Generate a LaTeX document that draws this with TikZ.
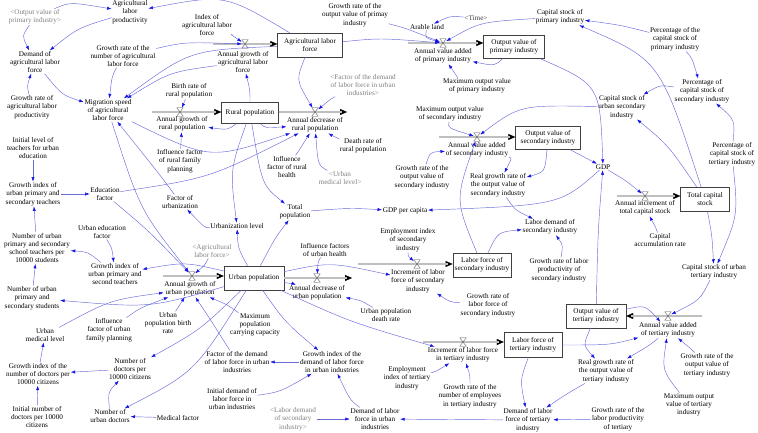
\documentclass[tikz,border=0pt]{standalone}
\usepackage{fontspec}
\setmainfont{Liberation Serif}
\usetikzlibrary{arrows.meta}
\definecolor{linkblue}{RGB}{105,105,220}
\definecolor{tipblue}{RGB}{20,20,230}
\tikzset{
  var/.style={align=center, inner sep=0.6pt, font=\fontsize{7.2}{8.3}\selectfont},
  shadow/.style={var, text=gray},
  stock/.style={var, draw=black!75, line width=0.4pt, inner sep=2pt},
  valvebox/.style={minimum width=6pt, minimum height=8pt, inner sep=0pt},
  link/.style={draw=linkblue, line width=0.45pt, -{Latex[length=4.5pt,width=3.2pt,color=tipblue]}},
  pipe/.style={draw=gray!65!black, line width=0.35pt, double=gray!50, double distance=2.2pt, shorten >=5pt},
  pipehead/.style={draw=black, line width=0.2pt, -{Triangle[length=7pt,width=6pt]}}
}
\newcommand{\valve}[3]{%
  \node[valvebox] (#1) at (#2,#3) {};
  \draw[fill=white, draw=black!70, line width=0.35pt] (#1.north west) -- (#1.north east) -- (#1.south west) -- (#1.south east) -- cycle;}
\begin{document}
\begin{tikzpicture}[x=1pt,y=-1pt]
\useasboundingbox (0,0) rectangle (758,433);

% stocks
\node[stock, minimum width=65pt, minimum height=24pt] (alf) at (310,45) {Agricultural labor\\force};
\node[stock, minimum width=57pt, minimum height=21pt] (rp) at (250,113) {Rural population};
\node[stock, minimum width=61pt, minimum height=23pt] (ovpi) at (514,47) {Output value of\\primary industry};
\node[stock, minimum width=65pt, minimum height=23pt] (ovsi) at (548,138) {Output value of\\secondary industry};
\node[stock, minimum width=49pt, minimum height=24pt] (tcs) at (705,199) {Total capital\\stock};
\node[stock, minimum width=60pt, minimum height=24pt] (up) at (254,278) {Urban population};
\node[stock, minimum width=53pt, minimum height=24pt] (lfsi) at (482,265) {Labor force of\\secondary industry};
\node[stock, minimum width=58pt, minimum height=25pt] (lfti) at (533,345) {Labor force of\\tertiary industry};
\node[stock, minimum width=60pt, minimum height=24pt] (ovti) at (596,316) {Output value of\\tertiary industry};

% flows
\coordinate (s1) at (213,44);
\draw[pipehead] (s1) -- (alf.west |- s1);
\draw[pipe] (s1) -- (alf.west |- s1);
\valve{vagalf}{245}{44}
\coordinate (s2) at (152,112);
\draw[pipehead] (s2) -- (rp.west |- s2);
\draw[pipe] (s2) -- (rp.west |- s2);
\valve{vagrp}{180}{112}
\coordinate (e2) at (347,112);
\draw[pipehead] (rp.east |- e2) -- (e2);
\draw[pipe] (rp.east |- e2) -- (e2);
\valve{vadrp}{315}{112}
\coordinate (s3) at (408,43);
\draw[pipehead] (s3) -- (ovpi.west |- s3);
\draw[pipe] (s3) -- (ovpi.west |- s3);
\valve{vavapi}{443}{43}
\coordinate (s4) at (439,137);
\draw[pipehead] (s4) -- (ovsi.west |- s4);
\draw[pipe] (s4) -- (ovsi.west |- s4);
\valve{vavasi}{477}{137}
\coordinate (s5) at (617,196);
\draw[pipehead] (s5) -- (tcs.west |- s5);
\draw[pipe] (s5) -- (tcs.west |- s5);
\valve{vaitcs}{645}{196}
\coordinate (s6) at (163,276);
\draw[pipehead] (s6) -- (up.west |- s6);
\draw[pipe] (s6) -- (up.west |- s6);
\valve{vagup}{192}{276}
\coordinate (e6) at (352,278);
\draw[pipehead] (up.east |- e6) -- (e6);
\draw[pipe] (up.east |- e6) -- (e6);
\valve{vadup}{317}{278}
\coordinate (s7) at (358,264);
\draw[pipehead] (s7) -- (lfsi.west |- s7);
\draw[pipe] (s7) -- (lfsi.west |- s7);
\valve{vilfsi}{417}{264}
\coordinate (s8) at (423,342);
\draw[pipehead] (s8) -- (lfti.west |- s8);
\draw[pipe] (s8) -- (lfti.west |- s8);
\valve{vilfti}{463}{342}
\coordinate (s9) at (702,316);
\draw[pipehead] (s9) -- (ovti.east |- s9);
\draw[pipe] (s9) -- (ovti.east |- s9);
\valve{vavati}{668}{316}

% auxiliaries
\node[shadow] (outpri) at (35,17) {<Output value of\\primary industry>};
\node[var] (alp) at (130,12) {Agricultural\\labor\\productivity};
\node[var] (dalf) at (35,62) {Demand of\\agricultural labor\\force};
\node[var] (gralp) at (32,107) {Growth rate of\\agricultural labor\\productivity};
\node[var] (grnalf) at (123,56) {Growth rate of the\\number of agricultural\\labor force};
\node[var] (ms) at (108,110) {Migration speed\\of agricultural\\labor force};
\node[var] (ialf) at (207,25) {Index of\\agricultural labor\\force};
\node[var] (agalf) at (243,62) {Annual growth of\\agricultural labor\\force};
\node[var] (grovp) at (355,15) {Growth rate of the\\output value of primay\\industry};
\node[shadow] (fdlus) at (363,85) {<Factor of the demand\\of labor force in urban\\industries>};
\node[var] (brrp) at (189,91) {Birth rate of\\rural population};
\node[var] (agrp) at (182,124) {Annual growth of\\rural population};
\node[var] (adrp) at (315,125) {Annual decrease of\\rural population};
\node[var] (drrp) at (363,146) {Death rate of\\rural population};
\node[var, text=black!75] (time) at (476,18) {<Time>};
\node[var] (arable) at (427,27) {Arable land};
\node[var] (cspi) at (560,17) {Capital stock of\\primary industry};
\node[var] (avapi) at (443,56) {Annual value added\\of primary industry};
\node[var] (movpi) at (477,86) {Maximum output value\\of primary industry};
\node[var] (pcspi) at (675,39) {Percentage of the\\capital stock of\\primary industry};
\node[var] (pcssi) at (702,91) {Percentage of\\capital stock of\\secondary industry};
\node[var] (csusi) at (622,107) {Capital stock of\\urban secondary\\industry};
\node[var] (movsi) at (450,114) {Maximum output value\\of secondary industry};
\node[var] (avasi) at (477,150) {Annual value added\\of secondary industry};
\node[var] (pcsti) at (732,154) {Percentage of\\capital stock of\\tertiary industry};
\node[var] (gdp) at (603,167) {GDP};
\node[var] (grovsi) at (422,177) {Growth rate of the\\output value of\\secondary industry};
\node[var] (rgrsi) at (498,185) {Real growth rate of\\the output value of\\secondary industry};
\node[var] (aitcs) at (645,208) {Annual increment of\\total capital stock};
\node[var] (car) at (660,240) {Capital\\accumulation rate};
\node[var] (csuti) at (714,272) {Capital stock of urban\\tertiary industry};
\node[var] (ilt) at (33,148) {Initial level of\\teachers for urban\\education};
\node[var] (gipst) at (33,194) {Growth index of\\urban primary and\\secondary teachers};
\node[var] (ef) at (105,194) {Education\\factor};
\node[var] (ifrfp) at (180,161) {Influence factor\\of rural family\\planning};
\node[var] (fu) at (180,202) {Factor of\\urbanization};
\node[var] (ifrh) at (287,167) {Influence\\factor of rural\\health};
\node[shadow] (umls) at (340,178) {<Urban\\medical level>};
\node[var] (tp) at (295,212) {Total\\population};
\node[var] (ul) at (237,226) {Urbanization level};
\node[var] (gdppc) at (405,211) {GDP per capita};
\node[var] (uef) at (102,232) {Urban education\\factor};
\node[var] (nst) at (37,248) {Number of urban\\primary and secondary\\school teachers per\\10000 students};
\node[var] (gipt) at (115,274) {Growth index of\\urban primary and\\second teachers};
\node[shadow] (alfs) at (212,251) {<Agricultural\\labor force>};
\node[var] (ifuh) at (325,250) {Influence factors\\of urban health};
\node[var] (eisi) at (408,240) {Employment index\\of secondary\\industry};
\node[var] (ldsi) at (550,227) {Labor demand of\\secondary industry};
\node[var] (agup) at (190,289) {Annual growth of\\urban population};
\node[var] (adup) at (317,293) {Annual decrease of\\urban population};
\node[var] (ilfsi) at (418,281) {Increment of labor\\force of secondary\\industry};
\node[var] (grlpsi) at (559,270) {Growth rate of labor\\productivity of\\secondary industry};
\node[var] (nus) at (32,298) {Number of urban\\primary and\\secondary students};
\node[var] (uml) at (45,335) {Urban\\medical level};
\node[var] (ifufp) at (109,330) {Influence\\factor of urban\\family planning};
\node[var] (upbr) at (168,323) {Urban\\population birth\\rate};
\node[var] (mpcc) at (255,325) {Maximum\\population\\carrying capacity};
\node[var] (updr) at (386,315) {Urban population\\death rate};
\node[var] (grlfsi) at (488,305) {Growth rate of\\labor force of\\secondary industry};
\node[var] (avati) at (668,330) {Annual value added\\of tertiary industry};
\node[var] (gind) at (38,374) {Growth index of the\\number of doctors per\\10000 citizens};
\node[var] (ndpc) at (130,369) {Number of\\doctors per\\10000 citizens};
\node[var] (indpc) at (37,417) {Initial number of\\doctors per 10000\\citizens};
\node[var] (nud) at (110,416) {Number of\\urban doctors};
\node[var] (mf) at (178,418) {Medical factor};
\node[var] (fdlu) at (237,362) {Factor of the demand\\of labor force in urban\\industries};
\node[var] (gidlu) at (332,362) {Growth index of the\\demand of labor force\\in urban industries};
\node[var] (idlu) at (232,399) {Initial demand of\\labor force in\\urban industries};
\node[shadow] (ldsis) at (293,419) {<Labor demand\\of secondary\\industry>};
\node[var] (dlfu) at (375,419) {Demand of labor\\force in urban\\industries};
\node[var] (ilfti) at (463,355) {Increment of labor force\\in tertiary industry};
\node[var] (eiti) at (407,378) {Employment\\index of tertiary\\industry};
\node[var] (grneti) at (470,396) {Growth rate of the\\number of employees\\in tertiary industry};
\node[var] (dlfti) at (528,420) {Demand of labor\\force of tertiary\\industry};
\node[var] (rgrti) at (606,371) {Real growth rate of\\the output value of\\tertiary industry};
\node[var] (grovti) at (707,365) {Growth rate of the\\output value of\\tertiary industry};
\node[var] (movti) at (689,405) {Maximum output\\value of tertiary\\industry};
\node[var] (grlpti) at (618,419) {Growth rate of the\\labor productivity\\of tertiary};

% agricultural sector
\draw[link] (outpri) .. controls (70,2) .. (alp);
\draw[link] (outpri) .. controls (22,36) .. (dalf);
\draw[link] (alp) .. controls (78,28) .. (dalf);
\draw[link] (gralp) .. controls (27,86) .. (dalf);
\draw[link] (dalf) .. controls (62,95) .. (ms);
\draw[link] (grnalf) .. controls (112,76) .. (ms);
\draw[link] (alf) .. controls (225,-6) .. (alp);
\draw[link] (ialf) .. controls (230,34) .. (vagalf);
\draw[link] (grnalf) .. controls (185,42) .. (vagalf);
\draw[link] (alf) .. controls (190,50) .. (ms);
\draw[link] (agalf) .. controls (170,72) .. (ms);
\draw[link] (rp) .. controls (250,90) .. (agalf);
\draw[link] (alf) .. controls (380,38) .. (vavapi);

% rural population
\draw[link] (brrp) -- (vagrp);
\draw[link] (ifrfp) -- (agrp);
\draw[link] (rp) .. controls (228,130) .. (agrp);
\draw[link] (rp) .. controls (265,128) .. (adrp);
\draw[link] (alf) .. controls (296,80) .. (vadrp);
\draw[link] (fdlus) .. controls (332,98) .. (vadrp);
\draw[link] (drrp) .. controls (336,138) .. (adrp);
\draw[link] (umls) .. controls (318,165) .. (adrp);
\draw[link] (ifrh) .. controls (298,152) .. (adrp);
\draw[link] (ms) .. controls (210,160) .. (adrp);
\draw[link] (ef) .. controls (210,178) .. (adrp);
\draw[link] (rp) .. controls (262,185) .. (tp);
\draw[link] (rp) .. controls (230,170) .. (ul);

% urbanization and education
\draw[link] (up) .. controls (238,248) .. (ul);
\draw[link] (ul) .. controls (205,228) .. (fu);
\draw[link] (up) .. controls (275,238) .. (tp);
\draw[link] (tp) .. controls (350,208) .. (gdppc);
\draw[link] (ms) .. controls (140,210) .. (vagup);
\draw[link] (fu) .. controls (160,175) .. (ms);
\draw[link] (ef) .. controls (150,232) .. (vagup);
\draw[link] (alfs) .. controls (205,265) .. (vagup);
\draw[link] (gipst) -- (ef);
\draw[link] (ilt) -- (gipst);
\draw[link] (nst) -- (gipst);
\draw[link] (nus) -- (nst);
\draw[link] (gipt) .. controls (88,252) .. (nst);
\draw[link] (uef) .. controls (112,248) .. (gipt);
\draw[link] (up) .. controls (185,262) .. (gipt);
\draw[link] (up) .. controls (150,308) .. (nus);
\draw[link] (ifufp) .. controls (140,308) .. (agup);
\draw[link] (uml) .. controls (110,300) .. (agup);
\draw[link] (upbr) -- (agup);

% medical
\draw[link] (gind) -- (uml);
\draw[link] (indpc) -- (gind);
\draw[link] (ndpc) -- (gind);
\draw[link] (nud) .. controls (108,392) .. (ndpc);
\draw[link] (mf) -- (nud);
\draw[link] (up) .. controls (200,330) .. (ndpc);
\draw[link] (up) .. controls (195,372) .. (nud);

% urban labor demand
\draw[link] (mpcc) .. controls (228,305) .. (agup);
\draw[link] (fdlu) .. controls (212,322) .. (agup);
\draw[link] (gidlu) -- (fdlu);
\draw[link] (idlu) .. controls (280,392) .. (gidlu);
\draw[link] (dlfu) .. controls (350,400) .. (gidlu);
\draw[link] (ldsis) -- (dlfu);
\draw[link] (dlfti) -- (dlfu);
\draw[link] (up) .. controls (285,322) .. (gidlu);
\draw[link] (up) .. controls (294,284) .. (adup);
\draw[link] (ifuh) .. controls (318,262) .. (vadup);
\draw[link] (updr) .. controls (360,300) .. (adup);
\draw[link] (up) .. controls (330,262) .. (ilfsi);
\draw[link] (up) .. controls (350,322) .. (ilfti);

% secondary industry
\draw[link] (eisi) .. controls (408,256) .. (vilfsi);
\draw[link] (grlfsi) .. controls (450,302) .. (ilfsi);
\draw[link] (lfsi) .. controls (455,200) .. (vavasi);
\draw[link] (lfsi) .. controls (498,232) .. (ldsi);
\draw[link] (rgrsi) .. controls (515,210) .. (ldsi);
\draw[link] (grlpsi) .. controls (563,245) .. (ldsi);
\draw[link] (avasi) .. controls (512,158) .. (rgrsi);
\draw[link] (ovsi) .. controls (545,172) .. (rgrsi);
\draw[link] (grovsi) .. controls (430,152) .. (avasi);
\draw[link] (movsi) .. controls (448,128) .. (vavasi);
\draw[link] (csusi) .. controls (520,105) .. (vavasi);
\draw[link] (ovsi) -- (gdp);
\draw[link] (gdp) .. controls (560,205) .. (gdppc);

% primary industry
\draw[link] (ovpi) .. controls (600,85) .. (gdp);
\draw[link] (cspi) .. controls (480,22) .. (vavapi);
\draw[link] (arable) .. controls (425,38) .. (vavapi);
\draw[link] (time) .. controls (450,16) .. (arable);
\draw[link] (grovp) .. controls (405,28) .. (vavapi);
\draw[link] (ovpi) .. controls (495,66) .. (avapi);
\draw[link] (movpi) .. controls (458,78) .. (avapi);

% capital
\draw[link] (ovti) .. controls (598,230) .. (gdp);
\draw[link] (gdp) .. controls (625,180) .. (vaitcs);
\draw[link] (car) .. controls (656,228) .. (aitcs);
\draw[link] (tcs) .. controls (712,235) .. (csuti);
\draw[link] (pcsti) .. controls (738,215) .. (csuti);
\draw[link] (pcsti) .. controls (735,120) .. (pcssi);
\draw[link] (pcspi) .. controls (692,58) .. (pcssi);
\draw[link] (pcspi) .. controls (620,25) .. (cspi);
\draw[link] (pcssi) .. controls (660,85) .. (csusi);
\draw[link] (tcs) .. controls (668,145) .. (csusi);
\draw[link] (tcs) .. controls (660,60) .. (cspi);

% tertiary industry
\draw[link] (csuti) .. controls (700,300) .. (vavati);
\draw[link] (ovti) .. controls (645,305) .. (avati);
\draw[link] (lfti) .. controls (610,345) .. (avati);
\draw[link] (avati) .. controls (650,345) .. (rgrti);
\draw[link] (ovti) .. controls (583,345) .. (rgrti);
\draw[link] (grovti) .. controls (690,348) .. (avati);
\draw[link] (movti) .. controls (662,370) .. (avati);
\draw[link] (lfti) .. controls (520,380) .. (dlfti);
\draw[link] (rgrti) .. controls (565,395) .. (dlfti);
\draw[link] (grlpti) -- (dlfti);
\draw[link] (eiti) .. controls (435,372) .. (ilfti);
\draw[link] (grneti) .. controls (470,375) .. (ilfti);
\end{tikzpicture}
\end{document}
